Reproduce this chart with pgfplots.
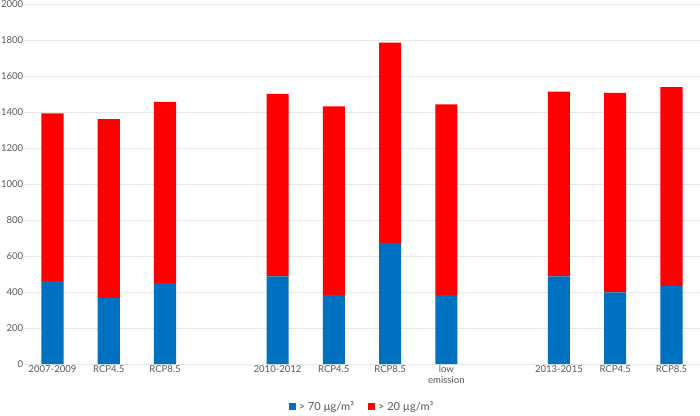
\documentclass[border=0pt]{standalone}
\usepackage{fontspec}
\setmainfont{Lato}
\usepackage{pgfplots}
\pgfplotsset{compat=1.18}
\definecolor{cblue}{HTML}{0070C0}
\definecolor{cred}{HTML}{FF0000}
\definecolor{txt}{HTML}{595959}
\definecolor{grd}{HTML}{E6E6E6}
\begin{document}
\begin{tikzpicture}
\begin{axis}[
    scale only axis,
    width=672pt, height=358pt,
    ybar stacked,
    bar width=22pt,
    xmin=-0.5, xmax=11.5,
    ymin=0, ymax=2000,
    ytick={0,200,...,2000},
    xtick={0,1,2,4,5,6,7,9,10,11},
    xticklabels={2007-2009,RCP4.5,RCP8.5,2010-2012,RCP4.5,RCP8.5,{low\\emission},2013-2015,RCP4.5,RCP8.5},
    xticklabel style={align=center, text=txt, font=\fontsize{9.5}{10.5}\selectfont, inner sep=1pt},
    yticklabel style={text=txt, font=\fontsize{9.5}{10.5}\selectfont, inner sep=1pt},
    /pgf/number format/assume math mode=true,
    /pgf/number format/1000 sep={},
    major tick length=0pt,
    ymajorgrids,
    grid style={grd, line width=0.8pt},
    axis x line*=bottom,
    axis y line*=left,
    x axis line style={draw=grd, line width=0.8pt, -},
    y axis line style={draw=none},
    legend style={at={(0.5,-0.095)}, anchor=north, draw=none, legend columns=-1,
        font=\fontsize{11}{12}\selectfont, text=txt, inner sep=1pt,
        /tikz/every odd column/.append style={column sep=1pt},
        /tikz/every even column/.append style={column sep=12pt}},
    legend image code/.code={\fill[#1] (0pt,-3.5pt) rectangle (7pt,3.5pt);},
]
\addplot[fill=cblue, draw=none] coordinates {(0,462) (1,369) (2,451) (4,488) (5,384) (6,674) (7,384) (9,488) (10,400) (11,436)};
\addplot[fill=cred, draw=none] coordinates {(0,933) (1,994) (2,1007) (4,1015) (5,1050) (6,1114) (7,1061) (9,1028) (10,1108) (11,1104)};
\legend{> 70 µg/m³, > 20 µg/m³}
\end{axis}
\end{tikzpicture}
\end{document}
